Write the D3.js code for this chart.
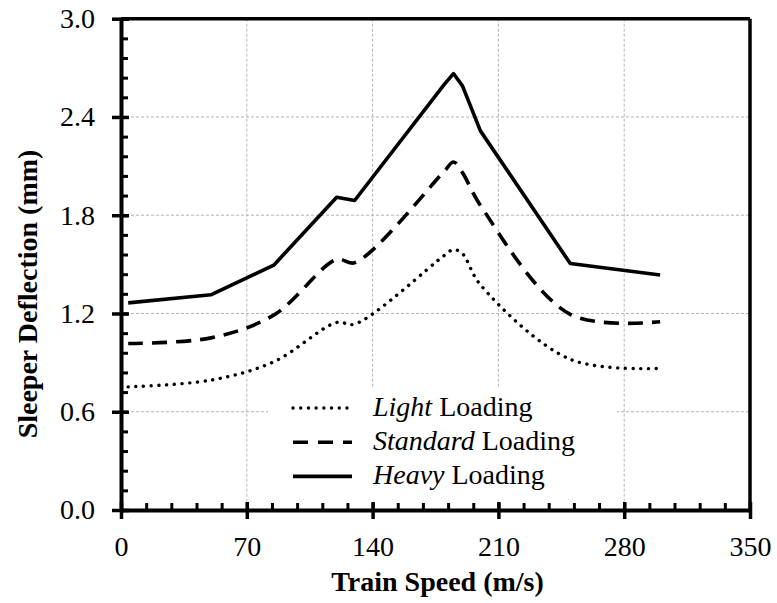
<!DOCTYPE html>
<html>
<head>
<meta charset="utf-8">
<script src="https://cdn.jsdelivr.net/npm/d3@7"></script>
</head>
<body style="margin:0">
<div id="chart"></div>
<script>
// values
let speed    = [4, 50, 85, 120, 130, 180, 185, 190, 200, 250, 300];
let light    = [0.752, 0.793, 0.905, 1.145, 1.135, 1.555, 1.59, 1.565, 1.375, 0.92, 0.865];
let standard = [1.017, 1.051, 1.19, 1.53, 1.51, 2.07, 2.125, 2.06, 1.86, 1.195, 1.15];
let heavy    = [1.265, 1.314, 1.495, 1.91, 1.89, 2.60, 2.665, 2.59, 2.315, 1.505, 1.435];

let x_ticks = [0, 70, 140, 210, 280, 350];
let y_ticks = [0, 0.6, 1.2, 1.8, 2.4, 3.0];

let svg_width = 777;
let svg_height = 603;

// plot area
let plot_left = 121, plot_right = 750, plot_top = 18.7, plot_bottom = 510;

let svg = d3.select('#chart')
    .append('svg')
    .attr('width', svg_width)
    .attr('height', svg_height);

let x = d3.scaleLinear().domain([0, 350]).range([plot_left, plot_right]);
let y = d3.scaleLinear().domain([0, 3]).range([plot_bottom, plot_top]);

// dashed grey grid
let grid = svg.append('g')
    .attr('stroke', '#b4b4b4')
    .attr('stroke-width', 1)
    .attr('stroke-dasharray', '3,2');

grid.selectAll('.gx')
    .data(x_ticks.slice(1, -1))
    .enter()
    .append('line')
    .attr('x1', d => x(d)).attr('x2', d => x(d))
    .attr('y1', plot_top).attr('y2', plot_bottom);

grid.selectAll('.gy')
    .data(y_ticks.slice(1, -1))
    .enter()
    .append('line')
    .attr('x1', plot_left).attr('x2', plot_right)
    .attr('y1', d => y(d)).attr('y2', d => y(d));

// legend box hides the grid behind it
svg.append('rect')
    .attr('x', 268).attr('y', 388)
    .attr('width', 349).attr('height', plot_bottom - 388 - 3)
    .attr('fill', '#fff');

// lines
let series = [
    {name: 'Light', values: light, dash: '0.1,7.6', width: 3.4, cap: 'round', smooth: true},
    {name: 'Standard', values: standard, dash: '15,9', width: 3.6, cap: 'butt', smooth: true},
    {name: 'Heavy', values: heavy, dash: null, width: 3.6, cap: 'butt', smooth: false}
];

series.forEach(function(s){
    let line = d3.line()
        .x((d, i) => x(speed[i]))
        .y(d => y(d))
        .curve(s.smooth ? d3.curveCatmullRom.alpha(0.5) : d3.curveLinear);
    svg.append('path')
        .datum(s.values)
        .attr('d', line)
        .attr('fill', 'none')
        .attr('stroke', '#000')
        .attr('stroke-width', s.width)
        .attr('stroke-linecap', s.cap)
        .attr('stroke-linejoin', 'round')
        .attr('stroke-dasharray', s.dash);
});

// frame top / right
svg.append('line')
    .attr('x1', plot_left).attr('x2', plot_right).attr('y1', plot_top).attr('y2', plot_top)
    .attr('stroke', '#000').attr('stroke-width', 3.5);
svg.append('line')
    .attr('x1', plot_right).attr('x2', plot_right).attr('y1', plot_top).attr('y2', plot_bottom)
    .attr('stroke', '#000').attr('stroke-width', 3.5);

// axes: outward major ticks with labels, inward major and minor ticks
let x_minor = d3.range(0, 351, 14);
let y_minor = d3.range(0, 31, 1.2).map(d => d / 10);

function styleAxis(g){
    g.attr('font-family', 'Liberation Serif');
    g.select('.domain').attr('stroke-width', 4);
    g.selectAll('.tick text')
        .attr('font-size', 28)
        .attr('fill', '#000');
}

svg.append('g')
    .attr('transform', 'translate(0,' + plot_bottom + ')')
    .call(d3.axisBottom(x).tickValues(x_minor).tickSize(-7).tickFormat(''))
    .call(g => g.select('.domain').remove())
    .call(g => g.selectAll('.tick line').attr('stroke-width', 3));
svg.append('g')
    .attr('transform', 'translate(0,' + plot_bottom + ')')
    .call(d3.axisBottom(x).tickValues(x_ticks).tickSize(-8).tickFormat(''))
    .call(g => g.select('.domain').remove())
    .call(g => g.selectAll('.tick line').attr('stroke-width', 3.5));
svg.append('g')
    .attr('transform', 'translate(0,' + plot_bottom + ')')
    .call(d3.axisBottom(x).tickValues(x_ticks).tickSizeInner(9).tickSizeOuter(0).tickPadding(17))
    .call(styleAxis)
    .call(g => g.selectAll('.tick line').attr('stroke-width', 3.5));

svg.append('g')
    .attr('transform', 'translate(' + plot_left + ',0)')
    .call(d3.axisLeft(y).tickValues(y_minor).tickSize(-7).tickFormat(''))
    .call(g => g.select('.domain').remove())
    .call(g => g.selectAll('.tick line').attr('stroke-width', 3));
svg.append('g')
    .attr('transform', 'translate(' + plot_left + ',0)')
    .call(d3.axisLeft(y).tickValues(y_ticks).tickSize(-8).tickFormat(''))
    .call(g => g.select('.domain').remove())
    .call(g => g.selectAll('.tick line').attr('stroke-width', 3.5));
svg.append('g')
    .attr('transform', 'translate(' + plot_left + ',0)')
    .call(d3.axisLeft(y).tickValues(y_ticks).tickSizeInner(9).tickSizeOuter(0).tickPadding(17)
        .tickFormat(d3.format('.1f')))
    .call(styleAxis)
    .call(g => g.selectAll('.tick line').attr('stroke-width', 3.5));

// axis titles
svg.append('text')
    .attr('x', (plot_left + plot_right) / 2 + 2)
    .attr('y', 591)
    .attr('text-anchor', 'middle')
    .attr('font-weight', 'bold')
    .attr('font-size', 28)
    .text('Train Speed (m/s)');

svg.append('text')
    .attr('transform', 'translate(37,294) rotate(-90)')
    .attr('text-anchor', 'middle')
    .attr('font-weight', 'bold')
    .attr('font-size', 28)
    .text('Sleeper Deflection (mm)');

// legend
let legend = svg.selectAll('.legend')
    .data(series)
    .enter()
    .append('g')
    .attr('transform', (d, i) => 'translate(293,' + (408 + i * 34.2) + ')');

legend.append('line')
    .attr('x1', 0).attr('x2', 59).attr('y1', 0).attr('y2', 0)
    .attr('stroke', '#000')
    .attr('stroke-width', d => d.width)
    .attr('stroke-linecap', d => d.cap)
    .attr('stroke-dasharray', d => d.name == 'Standard' ? '15,10' : d.dash);

let label = legend.append('text')
    .attr('x', 80)
    .attr('y', 8)
    .attr('font-size', 28);
label.append('tspan').attr('font-style', 'italic').text(d => d.name);
label.append('tspan').text(' Loading');

// serif for every text
svg.selectAll('text')
    .attr('font-family', 'Liberation Serif')
    .style('font-family', "'Liberation Serif'");
</script>
</body>
</html>
